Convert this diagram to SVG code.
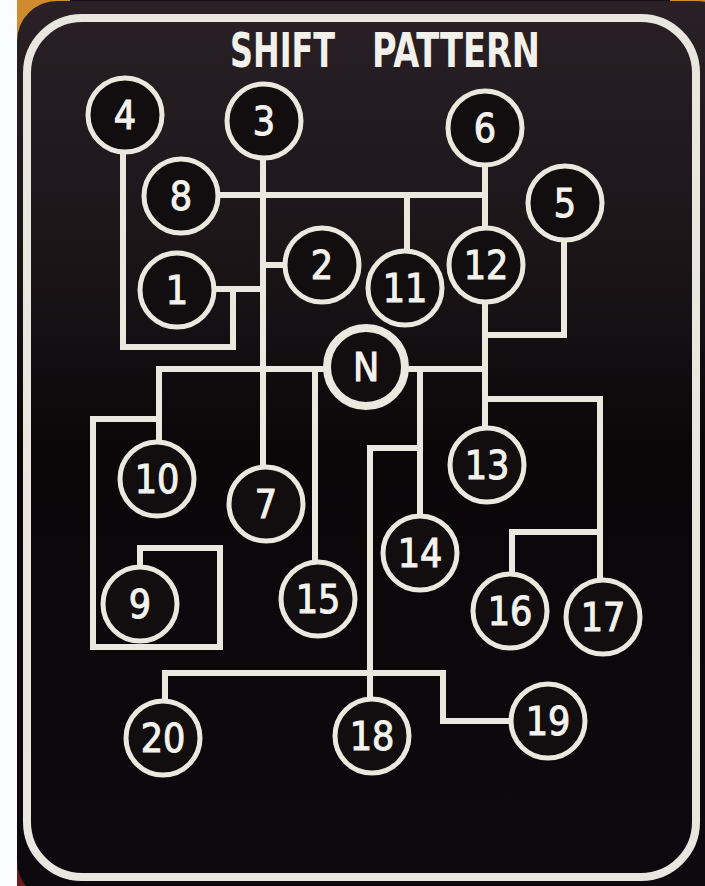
<svg xmlns="http://www.w3.org/2000/svg" width="705" height="886" viewBox="0 0 705 886">
  <defs>
    <linearGradient id="plateGrad" x1="0" y1="0" x2="0" y2="1">
      <stop offset="0" stop-color="#2a2025"/>
      <stop offset="0.3" stop-color="#1a1417"/>
      <stop offset="0.5" stop-color="#0a0709"/>
      <stop offset="1" stop-color="#0c0a0f"/>
    </linearGradient>
    <style>
      .ln { fill: none; stroke: #ebe8df; stroke-width: 6; stroke-linejoin: miter; stroke-linecap: square; }
      .nd circle { fill: #120e10; stroke: #ebe8df; stroke-width: 5; }
      .nd text { fill: #f4f2ec; stroke: #f4f2ec; stroke-width: 1; font-family: "DejaVu Sans Condensed", "DejaVu Sans", sans-serif; font-size: 39px; text-anchor: middle; }
      .title { fill: #f2f0ea; font-family: "DejaVu Sans Condensed", "DejaVu Sans", sans-serif; font-weight: bold; font-size: 48px; }
    </style>
  </defs>

  <!-- surroundings -->
  <rect x="0" y="0" width="705" height="886" fill="#150f12"/>
  <rect x="0" y="0" width="70" height="50" fill="#d18a2e"/>
  <rect x="670" y="0" width="35" height="25" fill="#c98a3a"/>
  <rect x="0" y="830" width="50" height="56" fill="#6e1a22"/>
  <rect x="0" y="0" width="17" height="886" fill="#fbfcfe"/>

  <!-- plate -->
  <rect x="17" y="1" width="720" height="900" rx="40" fill="url(#plateGrad)"/>
  <rect x="27" y="18" width="669" height="859" rx="55" fill="none" stroke="#e8e6df" stroke-width="8"/>

  <text class="title" y="67"><tspan x="230" textLength="105" lengthAdjust="spacingAndGlyphs">SHIFT</tspan> <tspan x="372" textLength="168" lengthAdjust="spacingAndGlyphs">PATTERN</tspan></text>

  <g id="connectors">
    <path class="ln" d="M123,152 V347 H233 V289"/>
    <path class="ln" d="M215,289 H263"/>
    <path class="ln" d="M263,158 V466"/>
    <path class="ln" d="M219,195 H485"/>
    <path class="ln" d="M407,195 V251"/>
    <path class="ln" d="M485,166 V228"/>
    <path class="ln" d="M263,265 H286"/>
    <path class="ln" d="M485,302 V427"/>
    <path class="ln" d="M564,241 V335 H485"/>
    <path class="ln" d="M159,441 V369 H324"/>
    <path class="ln" d="M140,566 V548 H220 V647 H93 V419 H159"/>
    <path class="ln" d="M315,369 V561"/>
    <path class="ln" d="M408,369 H485"/>
    <path class="ln" d="M420,369 V514"/>
    <path class="ln" d="M420,448 H370 V698"/>
    <path class="ln" d="M485,399 H600 V579"/>
    <path class="ln" d="M600,532 H512 V573"/>
    <path class="ln" d="M165,700 V673 H443 V721 H510"/>
  </g>

  <g id="n4" class="nd"><circle cx="125" cy="115" r="37"/><text x="125" y="129">4</text></g>
  <g id="n3" class="nd"><circle cx="264" cy="121" r="37"/><text x="264" y="135">3</text></g>
  <g id="n8" class="nd"><circle cx="181" cy="196" r="37"/><text x="181" y="210">8</text></g>
  <g id="n1" class="nd"><circle cx="177" cy="290" r="37"/><text x="177" y="304">1</text></g>
  <g id="n2" class="nd"><circle cx="322" cy="265" r="37"/><text x="322" y="279">2</text></g>
  <g id="n6" class="nd"><circle cx="485" cy="128" r="37"/><text x="485" y="142">6</text></g>
  <g id="n5" class="nd"><circle cx="565" cy="203" r="37"/><text x="565" y="217">5</text></g>
  <g id="n12" class="nd"><circle cx="486" cy="265" r="37"/><text x="486" y="279">12</text></g>
  <g id="n11" class="nd"><circle cx="405" cy="288" r="37"/><text x="405" y="302">11</text></g>
  <g id="nN" class="nd"><circle cx="366" cy="367" r="39" style="stroke-width:8"/><text x="366" y="381">N</text></g>
  <g id="n10" class="nd"><circle cx="157" cy="479" r="37"/><text x="157" y="493">10</text></g>
  <g id="n7" class="nd"><circle cx="266" cy="504" r="37"/><text x="266" y="518">7</text></g>
  <g id="n9" class="nd"><circle cx="140" cy="604" r="37"/><text x="140" y="618">9</text></g>
  <g id="n15" class="nd"><circle cx="318" cy="599" r="37"/><text x="318" y="613">15</text></g>
  <g id="n13" class="nd"><circle cx="487" cy="465" r="37"/><text x="487" y="479">13</text></g>
  <g id="n14" class="nd"><circle cx="420" cy="553" r="37"/><text x="420" y="567">14</text></g>
  <g id="n16" class="nd"><circle cx="510" cy="611" r="37"/><text x="510" y="625">16</text></g>
  <g id="n17" class="nd"><circle cx="603" cy="617" r="37"/><text x="603" y="631">17</text></g>
  <g id="n20" class="nd"><circle cx="163" cy="738" r="37"/><text x="163" y="752">20</text></g>
  <g id="n18" class="nd"><circle cx="372" cy="736" r="37"/><text x="372" y="750">18</text></g>
  <g id="n19" class="nd"><circle cx="548" cy="721" r="37"/><text x="548" y="735">19</text></g>
</svg>
